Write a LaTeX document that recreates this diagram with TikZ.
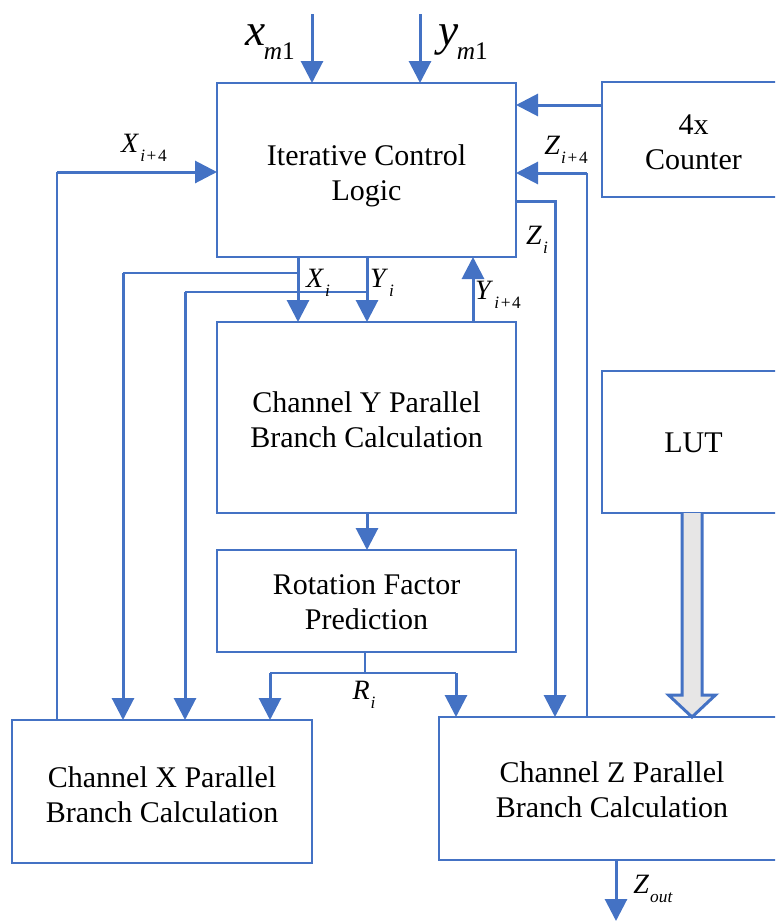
\documentclass[tikz,border=0pt]{standalone}
\usepackage{fontspec}
\setmainfont{Liberation Serif}
\usetikzlibrary{arrows.meta,calc}
\definecolor{wireblue}{HTML}{4472C4}
\definecolor{lutgray}{HTML}{E7E6E6}
% signal name with a lowered subscript
\newcommand\sig[2]{{\fontsize{21}{21}\selectfont\textit{#1}\kern0.8pt\raisebox{-0.3em}{\fontsize{13}{13}\selectfont #2}}}
\newcommand\bigsig[2]{{\fontsize{34}{34}\selectfont\textit{#1}\kern-1pt\raisebox{-0.3em}{\fontsize{19}{19}\selectfont #2}}}
\newcommand\plusfour{\textit{i}\kern1.2pt+\kern1.2pt4}
\begin{document}
\begin{tikzpicture}[x=0.75pt,y=-0.75pt,
  blk/.style={draw=wireblue,line width=1.9pt,fill=white,inner sep=0pt,outer sep=0pt},
  btxt/.style={inner sep=0pt,align=center,font=\fontsize{22.5}{26.3}\selectfont},
  arr/.style={draw=wireblue,line width=2.25pt,-{Triangle[length=16.5pt,width=16.5pt]}},
  wire/.style={draw=wireblue,line width=1.1pt},
  lbl/.style={inner sep=0pt}]
\useasboundingbox (0,0) rectangle (775,921);
\clip (0,0) rectangle (775,921);

% blocks
\node[blk,minimum width=224.25pt,minimum height=130.5pt] (icl) at (366.5,170) {};
\node[blk,minimum width=137.25pt,minimum height=86.25pt] (cnt) at (693.5,139.5) {};
\node[blk,minimum width=224.25pt,minimum height=143.25pt] (chy) at (366.5,417.5) {};
\node[blk,minimum width=224.25pt,minimum height=76.5pt] (rfp) at (366.5,601) {};
\node[blk,minimum width=137.25pt,minimum height=106.5pt] (lut) at (693.5,442) {};
\node[blk,minimum width=225pt,minimum height=107.25pt] (chx) at (162,791.5) {};
\node[blk,minimum width=259.5pt,minimum height=107.25pt] (chz) at (612,788.5) {};

% block captions
\node[btxt] (iclt) at ([yshift=-4.5pt]icl.center) {Iterative Control\\Logic};
\node[btxt] (cntt) at ([yshift=-1.8pt]cnt.center) {4x\\Counter};
\node[btxt] (chyt) at ([yshift=-1.5pt]chy.center) {Channel Y Parallel\\Branch Calculation};
\node[btxt] (rfpt) at ([yshift=-1.2pt]rfp.center) {Rotation Factor\\Prediction};
\node[btxt] (lutt) at ([yshift=-0.8pt]lut.center) {LUT};
\node[btxt] (chxt) at ([yshift=-2.2pt]chx.center) {Channel X Parallel\\Branch Calculation};
\node[btxt] (chzt) at ([yshift=-1.2pt]chz.center) {Channel Z Parallel\\Branch Calculation};

% wire positions
\coordinate (xin) at (312,14);
\coordinate (yin) at (420,14);
\coordinate (lvc) at (0,105);
\coordinate (zf) at (587,173);
\coordinate (zi) at (555,201);
\coordinate (yf) at (473,0);
\coordinate (xi) at (298,273);
\coordinate (xib) at (123,273);
\coordinate (yi) at (367,292);
\coordinate (yib) at (185,292);
\coordinate (xf) at (57,172);
\coordinate (r0) at (365,673);
\coordinate (rl) at (270,673);
\coordinate (rr) at (456,673);
\coordinate (zo) at (616,921);
\coordinate (la) at (692,513);

% inputs
\draw[arr] (xin) -- (xin |- icl.north);
\draw[arr] (yin) -- (yin |- icl.north);
\draw[arr] (cnt.west |- lvc) -- (icl.east |- lvc);

% feedback into the control logic
\draw[wire] (chz.north -| zf) -- (zf);
\draw[arr] (zf) -- (icl.east |- zf);
\draw[arr] (icl.east |- zi) -- (zi) -- (chz.north -| zi);
\draw[arr] (chy.north -| yf) -- (icl.south -| yf);
\draw[wire] (chx.north -| xf) -- (xf);
\draw[arr] (xf) -- (icl.west |- xf);

% X_i and Y_i fan-out
\draw[arr] (icl.south -| xi) -- (chy.north -| xi);
\draw[arr] (icl.south -| yi) -- (chy.north -| yi);
\draw[wire] (xi) -- (xib);
\draw[arr] (xib) -- (chx.north -| xib);
\draw[wire] (yi) -- (yib);
\draw[arr] (yib) -- (chx.north -| yib);

% rotation factor path
\draw[arr] (chy.south -| yi) -- (rfp.north -| yi);
\draw[wire] (rfp.south -| r0) -- (r0);
\draw[wire] (rl) -- (rr);
\draw[arr] (rl) -- (chx.north -| rl);
\draw[arr] (rr) -- (chz.north -| rr);

% LUT bus arrow
\coordinate (lb) at (chz.north -| la);
\filldraw[draw=wireblue,fill=lutgray,line width=2.25pt,line join=miter]
  ([xshift=-7.5pt]la) -- ([xshift=-7.5pt,yshift=16.5pt]lb) -- ([xshift=-17.6pt,yshift=16.5pt]lb)
  -- (lb) -- ([xshift=17.6pt,yshift=16.5pt]lb) -- ([xshift=7.5pt,yshift=16.5pt]lb)
  -- ([xshift=7.5pt]la);

% output
\draw[arr] (chz.south -| zo) -- (zo);

% labels
\node[lbl] (lxm) at (270,42) {\bigsig{x}{\textit{m}1}};
\node[lbl] (lym) at (463,42) {\bigsig{y}{\textit{m}1}};
\node[lbl] (lxf) at (144,148) {\sig{X}{\plusfour}};
\node[lbl] (lzf) at (566,150) {\sig{Z}{\plusfour}};
\node[lbl] (lzi) at (537,240) {\sig{Z}{\textit{i}}};
\node[lbl] (lyf) at (498,295) {\sig{Y}{\plusfour}};
\node[lbl] (lxi) at (318,283) {\sig{X}{\textit{i}}};
\node[lbl] (lyi) at (382,283) {\sig{Y}{\textit{i}}};
\node[lbl] (lri) at (364,695) {\sig{R}{\textit{i}}};
\node[lbl] (lzo) at (653,889) {\sig{Z}{\textit{out}}};
\end{tikzpicture}
\end{document}
